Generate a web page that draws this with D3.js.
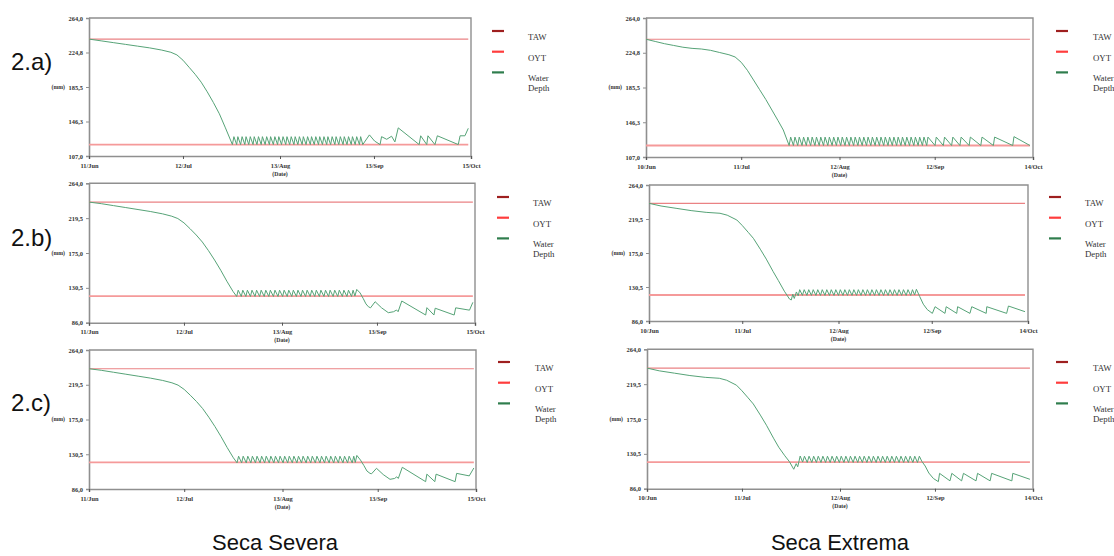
<!DOCTYPE html>
<html>
<head>
<meta charset="utf-8">
<script src="https://cdn.jsdelivr.net/npm/d3@7"></script>
<style>
  body { margin: 0; background: #fff; }
  svg { display: block; }
</style>
</head>
<body>
<svg id="chart" width="1114" height="556"></svg>
<script>
// ---- Axis ticks ----
const sevDates = ["2019-06-11", "2019-07-12", "2019-08-13", "2019-09-13", "2019-10-15"];
const extDates = ["2019-06-10", "2019-07-11", "2019-08-12", "2019-09-12", "2019-10-14"];
const yTicksA = [107.0, 146.25, 185.5, 224.75, 264.0];
const yTicksBC = [86.0, 130.5, 175.0, 219.5, 264.0];

// ---- Thresholds (mm) ----
const tawMM = 240;
const oytMM = 120;

// ---- Water depth series: [day since first date, mm] ----
const sevA = [
  [0,240],[4,238],[8,236],[12,234],[16,232],[20,230],[24,227.5],[27,225],[29,222],[31,216],[33,208],[35,200],[37,191],[39,180],[41,168],[43,155],[45,139],[47.3,120],
  [47.8,129],[48.7,120],[49.1,129],[50.0,120],[50.5,129],[51.4,120],[51.8,129],[52.7,120],[53.2,129],[54.1,120],[54.5,129],[55.4,120],[55.9,129],[56.8,120],[57.2,129],[58.1,120],[58.6,129],[59.5,120],[59.9,129],[60.8,120],[61.3,129],[62.2,120],[62.6,129],[63.5,120],[64.0,129],[64.9,120],[65.3,129],[66.2,120],[66.7,129],[67.6,120],[68.0,129],[68.9,120],[69.4,129],[70.3,120],[70.7,129],[71.6,120],[72.1,129],[73.0,120],[73.4,129],[74.3,120],[74.8,129],[75.7,120],[76.1,129],[77.0,120],[77.5,129],[78.4,120],[78.8,129],[79.7,120],[80.2,129],[81.1,120],[81.5,129],[82.4,120],[82.9,129],[83.8,120],[84.2,129],[85.1,120],[85.6,129],[86.5,120],[86.9,129],[87.8,120],[88.3,129],[89.2,120],[89.6,129],[90.3,120],
  [92.5,131],[94.2,124],[96.0,120],[96.5,129],[98.2,126],[99.8,129.5],[100.9,123],[102.0,139],[108.9,120],[109.4,130],[111.4,120],[111.8,130],[114.1,120],[114.9,130],[121.8,120],[122.4,130],[124.0,130],[125.1,138.5]
];

const sevB = [
  [0,240],[4,238],[8,235.5],[12,233],[16,230.5],[20,228],[24,225],[27,222],[29,219],[31,213.5],[33,206],[35,198],[37,189],[39,178],[41,166],[43,153],[45,139],[47,126],[48.2,119.5],
  [48.7,127.5],[49.7,119.5],[50.2,127.5],[51.2,119.5],[51.7,127.5],[52.7,119.5],[53.2,127.5],[54.2,119.5],[54.7,127.5],[55.7,119.5],[56.2,127.5],[57.2,119.5],[57.7,127.5],[58.7,119.5],[59.2,127.5],[60.2,119.5],[60.7,127.5],[61.7,119.5],[62.2,127.5],[63.2,119.5],[63.7,127.5],[64.7,119.5],[65.2,127.5],[66.2,119.5],[66.7,127.5],[67.7,119.5],[68.2,127.5],[69.2,119.5],[69.7,127.5],[70.7,119.5],[71.2,127.5],[72.2,119.5],[72.7,127.5],[73.7,119.5],[74.2,127.5],[75.2,119.5],[75.7,127.5],[76.7,119.5],[77.2,127.5],[78.2,119.5],[78.7,127.5],[79.7,119.5],[80.2,127.5],[81.2,119.5],[81.7,127.5],[82.7,119.5],[83.2,127.5],[84.2,119.5],[84.7,127.5],[85.7,119.5],[86.2,127.5],[86.8,120],[87.4,128.5],
  [88.5,124],[89.5,117],[90.4,110],[91.2,106.4],[91.9,105],[93.4,112.8],[95.5,105],[97.7,98.8],[99.4,100],[100.4,102.2],[100.9,100],[102.1,113.7],[109.9,95.8],[110.3,105.2],[112.6,95.8],[113.0,104.5],[119.2,95.8],[119.7,105],[124.2,102],[125.3,112]
];

const sevC = [
  [0,240],[4,238],[8,235.5],[12,233],[16,230.5],[20,228],[24,225],[27,222],[29,219],[31,213.5],[33,206],[35,198],[37,189],[39,178],[41,166],[43,153],[45,139],[47,126],[48.2,119.5],
  [48.7,128],[49.7,119.5],[50.2,128],[51.2,119.5],[51.7,128],[52.7,119.5],[53.2,128],[54.2,119.5],[54.7,128],[55.7,119.5],[56.2,128],[57.2,119.5],[57.7,128],[58.7,119.5],[59.2,128],[60.2,119.5],[60.7,128],[61.7,119.5],[62.2,128],[63.2,119.5],[63.7,128],[64.7,119.5],[65.2,128],[66.2,119.5],[66.7,128],[67.7,119.5],[68.2,128],[69.2,119.5],[69.7,128],[70.7,119.5],[71.2,128],[72.2,119.5],[72.7,128],[73.7,119.5],[74.2,128],[75.2,119.5],[75.7,128],[76.7,119.5],[77.2,128],[78.2,119.5],[78.7,128],[79.7,119.5],[80.2,128],[81.2,119.5],[81.7,128],[82.7,119.5],[83.2,128],[84.2,119.5],[84.7,128],[85.7,119.5],[86.2,128],[86.7,120],[87.2,129],
  [88.4,123],[89.5,116],[90.5,109],[91.5,106],[92.0,105.5],[93.6,112.5],[95.8,104.5],[98.0,98.4],[99.5,99.5],[100.2,101.6],[100.7,99.5],[102.0,113.8],[109.6,95.4],[110.0,105],[112.6,95.4],[113.0,105],[119.2,95.4],[119.7,106],[123.8,102.8],[125.3,112.9]
];

const extA = [
  [0,240],[3,237.5],[6,235],[9,233],[12,231],[15,229.7],[18,229],[21,227.5],[24,225],[27,222.5],[29,220],[31,214],[33,205],[35,194],[37,183],[39,172],[41,160],[43,148],[44.7,137.5],[46.6,120],
  [47.1,129.5],[48.0,120],[48.5,129.5],[49.4,120],[49.9,129.5],[50.8,120],[51.3,129.5],[52.2,120],[52.7,129.5],[53.6,120],[54.1,129.5],[55.0,120],[55.5,129.5],[56.4,120],[56.9,129.5],[57.8,120],[58.3,129.5],[59.2,120],[59.7,129.5],[60.6,120],[61.1,129.5],[62.0,120],[62.5,129.5],[63.4,120],[63.9,129.5],[64.8,120],[65.3,129.5],[66.2,120],[66.7,129.5],[67.6,120],[68.1,129.5],[69.0,120],[69.5,129.5],[70.4,120],[70.9,129.5],[71.8,120],[72.3,129.5],[73.2,120],[73.7,129.5],[74.6,120],[75.1,129.5],[76.0,120],[76.5,129.5],[77.4,120],[77.9,129.5],[78.8,120],[79.3,129.5],[80.2,120],[80.7,129.5],[81.6,120],[82.1,129.5],[83.0,120],[83.5,129.5],[84.4,120],[84.9,129.5],[85.8,120],[86.3,129.5],[87.2,120],[87.7,129.5],[88.6,120],[89.1,129.5],[90.0,120],[90.5,129.5],[91.4,120],
  [91.8,129.5],[94.1,120],[94.5,129.5],[96.8,120],[97.2,129.5],[99.5,120],[99.9,129.5],[102.2,120],[102.6,129.5],[105.2,120],[105.6,129.5],[109.0,120],[109.4,129.5],[113.1,120],[113.5,129.5],[119.4,120],[119.8,130],[125.0,120]
];

const extB = [
  [0,240],[4,236.5],[9,233.5],[14,230.5],[19,228.2],[23.6,227],[26,224.5],[29.2,218.2],[31,211],[33,202],[34.7,194.2],[37,180],[39,167],[41.3,150.5],[43,139],[45,125],[46.7,114.8],[47.3,113.5],[47.8,121],[48.3,115.5],[49.0,124],[49.6,119],
  [50.1,127],[51.0,119.5],[51.6,127],[52.5,119.5],[53.1,127],[54.0,119.5],[54.6,127],[55.5,119.5],[56.1,127],[57.0,119.5],[57.6,127],[58.5,119.5],[59.1,127],[60.0,119.5],[60.6,127],[61.5,119.5],[62.1,127],[63.0,119.5],[63.6,127],[64.5,119.5],[65.1,127],[66.0,119.5],[66.6,127],[67.5,119.5],[68.1,127],[69.0,119.5],[69.6,127],[70.5,119.5],[71.1,127],[72.0,119.5],[72.6,127],[73.5,119.5],[74.1,127],[75.0,119.5],[75.6,127],[76.5,119.5],[77.1,127],[78.0,119.5],[78.6,127],[79.5,119.5],[80.1,127],[81.0,119.5],[81.6,127],[82.5,119.5],[83.1,127],[84.0,119.5],[84.6,127],[85.5,119.5],[86.1,127],[87.0,119.5],[87.6,127],[88.3,120],[88.9,127.5],
  [90.0,118],[91.2,108],[92.5,101],[94.2,96],[95.1,104.7],[98.4,96],[98.8,104.7],[102.3,96],[102.6,104.7],[106.7,96],[107.3,104.7],[112.1,96],[112.3,104.7],[118.9,96],[119.5,105.6],[125.0,98.2]
];

const extC = [
  [0,240],[4,236.5],[9,233.5],[14,230.5],[19,228.2],[23.6,227],[26,224.5],[29.2,218.2],[31,211],[33,202],[34.7,194.2],[37,180],[39,167],[41.3,150.5],[43,139],[45,128],[46.5,120.5],[47.9,110.8],[48.7,118],[49.2,114],[50.0,127.7],[50.8,120],
  [51.4,127.5],[52.3,119.5],[52.9,127.5],[53.8,119.5],[54.4,127.5],[55.3,119.5],[55.9,127.5],[56.8,119.5],[57.4,127.5],[58.3,119.5],[58.9,127.5],[59.8,119.5],[60.4,127.5],[61.3,119.5],[61.9,127.5],[62.8,119.5],[63.4,127.5],[64.3,119.5],[64.9,127.5],[65.8,119.5],[66.4,127.5],[67.3,119.5],[67.9,127.5],[68.8,119.5],[69.4,127.5],[70.3,119.5],[70.9,127.5],[71.8,119.5],[72.4,127.5],[73.3,119.5],[73.9,127.5],[74.8,119.5],[75.4,127.5],[76.3,119.5],[76.9,127.5],[77.8,119.5],[78.4,127.5],[79.3,119.5],[79.9,127.5],[80.8,119.5],[81.4,127.5],[82.3,119.5],[82.9,127.5],[83.8,119.5],[84.4,127.5],[85.3,119.5],[85.9,127.5],[86.8,119.5],[87.4,127.5],[88.3,119.5],[88.9,127.5],[89.7,121],
  [90.8,115],[92.0,106],[93.5,99],[95.1,95],[95.5,105.6],[98.9,96],[99.5,105.6],[102.7,96],[103.3,105.6],[107.4,96],[107.9,105.6],[112.0,96],[112.5,105.6],[119.1,96],[119.4,105.6],[125.0,98]
];

const legendItems = [["TAW"], ["OYT"], ["Water", "Depth"]];
const rowLabels = ["2.a)", "2.b)", "2.c)"];
const columnTitles = ["Seca Severa", "Seca Extrema"];

// ---- Layout and styles ----
const colors = {
  taw: "#ea8284", oyt: "#f59a9a", depth: "#56a377",
  legendTaw: "#9e1f1f", legendOyt: "#ff3d3d", legendDepth: "#2f7d4d",
  axis: "#8f8f8f", text: "#333"
};

const panels = [
  { dates: sevDates, yTicks: yTicksA,  series: sevA, x0: 89,  x1: 471,  y0: 18,    y1: 156,   lgLine: 492,  lgText: 528,  lgY: 31 },
  { dates: extDates, yTicks: yTicksA,  series: extA, x0: 646, x1: 1033, y0: 18,    y1: 157,   lgLine: 1056, lgText: 1093, lgY: 31 },
  { dates: sevDates, yTicks: yTicksBC, series: sevB, x0: 89,  x1: 475,  y0: 183.3, y1: 322.7, lgLine: 497,  lgText: 533,  lgY: 197 },
  { dates: extDates, yTicks: yTicksBC, series: extB, x0: 649, x1: 1028, y0: 185,   y1: 321,   lgLine: 1049, lgText: 1085, lgY: 197 },
  { dates: sevDates, yTicks: yTicksBC, series: sevC, x0: 89,  x1: 476,  y0: 350,   y1: 489,   lgLine: 498,  lgText: 535,  lgY: 362 },
  { dates: extDates, yTicks: yTicksBC, series: extC, x0: 647, x1: 1033, y0: 349.3, y1: 488.7, lgLine: 1056, lgText: 1093, lgY: 362 }
];

const svg = d3.select("#chart");
const parseDay = d3.utcParse("%Y-%m-%d");
const DAY = 864e5;
const fmtMM = d3.formatLocale({ decimal: ",", thousands: ".", grouping: [3], currency: ["", "€"] }).format(".1f");
const fmtDate = d3.utcFormat("%d/%b");
const serif = "'Liberation Serif', 'DejaVu Serif', serif";
const sans = "'Liberation Sans', Arial, sans-serif";

function drawPanel(p) {
  const tickDates = p.dates.map(parseDay);
  const start = tickDates[0];
  const x = d3.scaleUtc().domain(d3.extent(tickDates)).range([p.x0, p.x1]);
  const y = d3.scaleLinear().domain(d3.extent(p.yTicks)).range([p.y1, p.y0]);
  const at = d => new Date(start.getTime() + d * DAY);
  const g = svg.append("g");

  // frame: top and right edges
  g.append("path")
    .attr("d", `M${p.x0},${p.y0}H${p.x1}V${p.y1}`)
    .attr("fill", "none").attr("stroke", colors.axis).attr("stroke-width", 1.4);

  // y axis
  const yAxis = g.append("g").attr("transform", `translate(${p.x0},0)`)
    .call(d3.axisLeft(y).tickValues(p.yTicks).tickFormat(fmtMM).tickSize(3).tickPadding(3));
  yAxis.select(".domain").attr("stroke", colors.axis).attr("stroke-width", 1.6);
  yAxis.selectAll(".tick line").attr("stroke", colors.axis);
  yAxis.selectAll("text").attr("font-family", serif).attr("font-weight", "bold")
    .attr("font-size", 6.4).attr("fill", colors.text);

  // x axis
  const xAxis = g.append("g").attr("transform", `translate(0,${p.y1})`)
    .call(d3.axisBottom(x).tickValues(tickDates).tickFormat(fmtDate).tickSize(3).tickPadding(4));
  xAxis.select(".domain").attr("stroke", colors.axis).attr("stroke-width", 1.6);
  xAxis.selectAll(".tick line").attr("stroke", "#555");
  xAxis.selectAll("text").attr("font-family", serif).attr("font-weight", "bold")
    .attr("font-size", 6.4).attr("fill", colors.text);

  // axis titles
  g.append("text").attr("x", p.x0 - 24).attr("y", y(d3.median(p.yTicks)))
    .attr("dy", "0.32em").attr("text-anchor", "end")
    .attr("font-family", serif).attr("font-weight", "bold").attr("font-size", 5.8)
    .attr("fill", colors.text).text("(mm)");
  g.append("text").attr("x", x(tickDates[2])).attr("y", p.y1 + 19.5)
    .attr("text-anchor", "middle")
    .attr("font-family", serif).attr("font-weight", "bold").attr("font-size", 5.8)
    .attr("fill", colors.text).text("(Date)");

  // threshold lines over the simulated period
  const span = d3.extent(p.series, d => d[0]);
  const hline = v => d3.line().x(d => x(at(d))).y(() => y(v))(span);
  g.append("path").attr("d", hline(tawMM)).attr("fill", "none")
    .attr("stroke", colors.taw).attr("stroke-width", 1.1);
  g.append("path").attr("d", hline(oytMM)).attr("fill", "none")
    .attr("stroke", colors.oyt).attr("stroke-width", 1.8);

  // water depth
  const line = d3.line().x(d => x(at(d[0]))).y(d => y(d[1]));
  g.append("path").datum(p.series).attr("d", line).attr("fill", "none")
    .attr("stroke", colors.depth).attr("stroke-width", 1).attr("stroke-linejoin", "round");

  // legend
  const lgColors = [colors.legendTaw, colors.legendOyt, colors.legendDepth];
  legendItems.forEach((lines, i) => {
    const ly = p.lgY + i * 20.7;
    g.append("line").attr("x1", p.lgLine).attr("x2", p.lgLine + 12)
      .attr("y1", ly).attr("y2", ly)
      .attr("stroke", lgColors[i]).attr("stroke-width", 2.2);
    const t = g.append("text").attr("x", p.lgText).attr("y", ly + 9)
      .attr("font-family", serif).attr("font-size", 8.8).attr("fill", colors.text);
    lines.forEach((s, k) => t.append("tspan").attr("x", p.lgText).attr("dy", k ? 10 : 0).text(s));
  });
}

panels.forEach(drawPanel);

// row labels
const rowY = [70, 246, 411];
rowLabels.forEach((s, i) => {
  svg.append("text").attr("x", 11).attr("y", rowY[i])
    .attr("font-family", sans).attr("font-size", 24).attr("fill", "#111").text(s);
});

// column titles
const colX = [275, 840];
columnTitles.forEach((s, i) => {
  svg.append("text").attr("x", colX[i]).attr("y", 550).attr("text-anchor", "middle")
    .attr("font-family", sans).attr("font-size", 22).attr("fill", "#111").text(s);
});
</script>
</body>
</html>
